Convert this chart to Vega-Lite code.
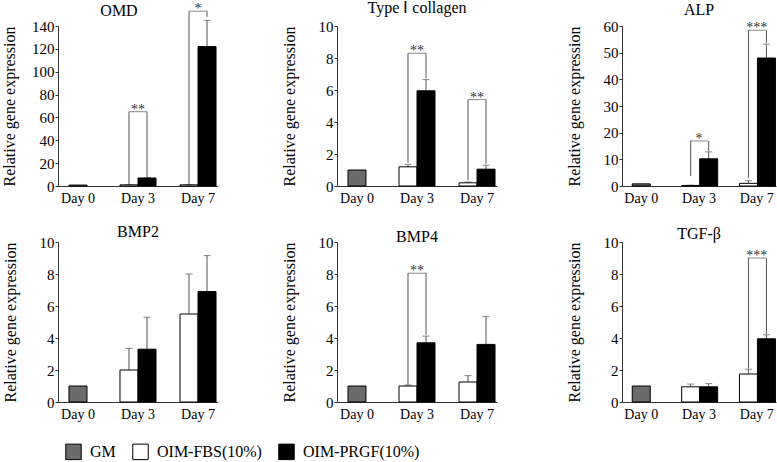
{
"$schema": "https://vega.github.io/schema/vega-lite/v6.json",
"padding": {"left": 1, "top": 0, "right": 2, "bottom": 0},
"config": {
 "font": "Liberation Serif",
 "view": {"stroke": null},
 "style": {"guide-label": {"font": "Liberation Serif"}, "guide-title": {"font": "Liberation Serif"}},
 "axis": {"grid": false, "domainColor": "#333", "tickColor": "#333", "labelColor": "#000", "labelFont": "Liberation Serif", "titleFont": "Liberation Serif", "labelFontSize": 15, "titleFontSize": 16, "titleFontWeight": "normal", "titleColor": "#000", "labelOverlap": false},
 "axisX": {"ticks": false, "labelAngle": 0, "labelFontSize": 14, "labelPadding": 5},
 "axisY": {"tickSize": 3, "labelPadding": 1, "labelOverlap": false},
 "axisQuantitative": {"labelOverlap": false},
 "title": {"font": "Liberation Serif", "fontSize": 16, "fontWeight": "normal", "color": "#000", "anchor": "middle", "frame": "group"},
 "legend": {"orient": "bottom", "direction": "horizontal", "symbolType": "square", "symbolSize": 240, "symbolStrokeColor": "#000", "symbolStrokeWidth": 1, "labelFont": "Liberation Serif", "labelFontSize": 16, "labelColor": "#000", "columnPadding": 14, "labelOffset": 8, "offset": 15, "padding": 7}
},
"datasets": {
 "bars": [
  {"gene": "OMD", "day": "Day 0", "group": "GM", "value": 0.8, "err": 0.8},
  {"gene": "OMD", "day": "Day 3", "group": "OIM-FBS(10%)", "value": 1.0, "err": 1.2},
  {"gene": "OMD", "day": "Day 3", "group": "OIM-PRGF(10%)", "value": 7.0, "err": 7.3},
  {"gene": "OMD", "day": "Day 7", "group": "OIM-FBS(10%)", "value": 1.0, "err": 1.3},
  {"gene": "OMD", "day": "Day 7", "group": "OIM-PRGF(10%)", "value": 122, "err": 145},
  {"gene": "Type I collagen", "day": "Day 0", "group": "GM", "value": 1.0, "err": 1.02},
  {"gene": "Type I collagen", "day": "Day 3", "group": "OIM-FBS(10%)", "value": 1.2, "err": 1.35},
  {"gene": "Type I collagen", "day": "Day 3", "group": "OIM-PRGF(10%)", "value": 5.95, "err": 6.65},
  {"gene": "Type I collagen", "day": "Day 7", "group": "OIM-FBS(10%)", "value": 0.2, "err": 0.25},
  {"gene": "Type I collagen", "day": "Day 7", "group": "OIM-PRGF(10%)", "value": 1.05, "err": 1.3},
  {"gene": "ALP", "day": "Day 0", "group": "GM", "value": 0.8, "err": 0.9},
  {"gene": "ALP", "day": "Day 3", "group": "OIM-FBS(10%)", "value": 0.2, "err": 0.3},
  {"gene": "ALP", "day": "Day 3", "group": "OIM-PRGF(10%)", "value": 10.2, "err": 12.8},
  {"gene": "ALP", "day": "Day 7", "group": "OIM-FBS(10%)", "value": 1.0, "err": 2.0},
  {"gene": "ALP", "day": "Day 7", "group": "OIM-PRGF(10%)", "value": 48, "err": 53.2},
  {"gene": "BMP2", "day": "Day 0", "group": "GM", "value": 1.0, "err": 1.0},
  {"gene": "BMP2", "day": "Day 3", "group": "OIM-FBS(10%)", "value": 2.0, "err": 3.35},
  {"gene": "BMP2", "day": "Day 3", "group": "OIM-PRGF(10%)", "value": 3.3, "err": 5.3},
  {"gene": "BMP2", "day": "Day 7", "group": "OIM-FBS(10%)", "value": 5.5, "err": 8.0},
  {"gene": "BMP2", "day": "Day 7", "group": "OIM-PRGF(10%)", "value": 6.9, "err": 9.15},
  {"gene": "BMP4", "day": "Day 0", "group": "GM", "value": 1.0, "err": 1.0},
  {"gene": "BMP4", "day": "Day 3", "group": "OIM-FBS(10%)", "value": 1.0, "err": 1.07},
  {"gene": "BMP4", "day": "Day 3", "group": "OIM-PRGF(10%)", "value": 3.7, "err": 4.12},
  {"gene": "BMP4", "day": "Day 7", "group": "OIM-FBS(10%)", "value": 1.25, "err": 1.65},
  {"gene": "BMP4", "day": "Day 7", "group": "OIM-PRGF(10%)", "value": 3.6, "err": 5.35},
  {"gene": "TGF-β", "day": "Day 0", "group": "GM", "value": 1.0, "err": 1.0},
  {"gene": "TGF-β", "day": "Day 3", "group": "OIM-FBS(10%)", "value": 0.95, "err": 1.12},
  {"gene": "TGF-β", "day": "Day 3", "group": "OIM-PRGF(10%)", "value": 0.95, "err": 1.15},
  {"gene": "TGF-β", "day": "Day 7", "group": "OIM-FBS(10%)", "value": 1.75, "err": 2.05},
  {"gene": "TGF-β", "day": "Day 7", "group": "OIM-PRGF(10%)", "value": 3.95, "err": 4.2}
 ],
 "legs": [
  {"gene": "OMD", "day": "Day 3", "group": "OIM-FBS(10%)", "from": 1.5, "to": 65},
  {"gene": "OMD", "day": "Day 3", "group": "OIM-PRGF(10%)", "from": 7.5, "to": 65},
  {"gene": "OMD", "day": "Day 7", "group": "OIM-FBS(10%)", "from": 1.5, "to": 153},
  {"gene": "OMD", "day": "Day 7", "group": "OIM-PRGF(10%)", "from": 148, "to": 153},
  {"gene": "Type I collagen", "day": "Day 3", "group": "OIM-FBS(10%)", "from": 1.45, "to": 8.3},
  {"gene": "Type I collagen", "day": "Day 3", "group": "OIM-PRGF(10%)", "from": 6.75, "to": 8.3},
  {"gene": "Type I collagen", "day": "Day 7", "group": "OIM-FBS(10%)", "from": 0.35, "to": 5.4},
  {"gene": "Type I collagen", "day": "Day 7", "group": "OIM-PRGF(10%)", "from": 1.4, "to": 5.4},
  {"gene": "ALP", "day": "Day 3", "group": "OIM-FBS(10%)", "from": 3.7, "to": 16.9},
  {"gene": "ALP", "day": "Day 3", "group": "OIM-PRGF(10%)", "from": 13.1, "to": 16.9},
  {"gene": "ALP", "day": "Day 7", "group": "OIM-FBS(10%)", "from": 3.1, "to": 58.4},
  {"gene": "ALP", "day": "Day 7", "group": "OIM-PRGF(10%)", "from": 53.7, "to": 58.4},
  {"gene": "BMP4", "day": "Day 3", "group": "OIM-FBS(10%)", "from": 1.1, "to": 8.05},
  {"gene": "BMP4", "day": "Day 3", "group": "OIM-PRGF(10%)", "from": 4.2, "to": 8.05},
  {"gene": "TGF-β", "day": "Day 7", "group": "OIM-FBS(10%)", "from": 2.1, "to": 9.0},
  {"gene": "TGF-β", "day": "Day 7", "group": "OIM-PRGF(10%)", "from": 4.25, "to": 9.0}
 ],
 "tops": [
  {"gene": "OMD", "day": "Day 3", "top": 65, "label": "**"},
  {"gene": "OMD", "day": "Day 7", "top": 153, "label": "*"},
  {"gene": "Type I collagen", "day": "Day 3", "top": 8.3, "label": "**"},
  {"gene": "Type I collagen", "day": "Day 7", "top": 5.4, "label": "**"},
  {"gene": "ALP", "day": "Day 3", "top": 16.9, "label": "*"},
  {"gene": "ALP", "day": "Day 7", "top": 58.4, "label": "***"},
  {"gene": "BMP4", "day": "Day 3", "top": 8.05, "label": "**"},
  {"gene": "TGF-β", "day": "Day 7", "top": 9.0, "label": "***"}
 ]
},
"vconcat": [
 {"hconcat": [
  {"width": 160, "height": 160, "title": {"text": "OMD", "offset": -17, "dx": -19},
   "encoding": {"x": {"field": "day", "type": "nominal", "title": null, "scale": {"domain": ["Day 0", "Day 3", "Day 7"], "paddingInner": 0.4, "paddingOuter": 0.033}, "axis": {"labelFont": "Liberation Serif", "labelFontSize": 14}}},
   "layer": [
    {"data": {"name": "bars"}, "transform": [{"filter": {"and": [{"field": "gene", "equal": "OMD"}, {"field": "group", "equal": "GM"}]}}],
     "mark": {"type": "bar", "width": 18, "stroke": "#000", "strokeWidth": 1},
     "encoding": {"y": {"field": "value", "type": "quantitative", "title": "Relative gene expression", "scale": {"domain": [0, 140], "nice": false}, "axis": {"values": [0, 20, 40, 60, 80, 100, 120, 140], "titlePadding": 14, "labelOverlap": false, "labelFont": "Liberation Serif", "titleFont": "Liberation Serif", "labelFontSize": 15, "titleFontSize": 16}},
      "fill": {"field": "group", "type": "nominal", "title": null, "scale": {"domain": ["GM", "OIM-FBS(10%)", "OIM-PRGF(10%)"], "range": ["#6b6b6b", "#ffffff", "#000000"]}}}},
    {"data": {"name": "bars"}, "transform": [{"filter": {"and": [{"field": "gene", "equal": "OMD"}, {"field": "group", "oneOf": ["OIM-FBS(10%)", "OIM-PRGF(10%)"]}]}}],
     "mark": {"type": "rule", "color": "#555"},
     "encoding": {"xOffset": {"field": "group", "type": "nominal", "scale": {"domain": ["OIM-FBS(10%)", "OIM-PRGF(10%)"], "paddingInner": 0, "paddingOuter": 0}},
      "y": {"field": "value", "type": "quantitative", "title": "Relative gene expression", "scale": {"domain": [0, 140], "nice": false}, "axis": {"values": [0, 20, 40, 60, 80, 100, 120, 140], "titlePadding": 14, "labelOverlap": false, "labelFont": "Liberation Serif", "titleFont": "Liberation Serif", "labelFontSize": 15, "titleFontSize": 16}}, "y2": {"field": "err"}}},
    {"data": {"name": "bars"}, "transform": [{"filter": {"and": [{"field": "gene", "equal": "OMD"}, {"field": "group", "oneOf": ["OIM-FBS(10%)", "OIM-PRGF(10%)"]}]}}],
     "mark": {"type": "tick", "color": "#555", "size": 7, "thickness": 1},
     "encoding": {"xOffset": {"field": "group", "type": "nominal", "scale": {"domain": ["OIM-FBS(10%)", "OIM-PRGF(10%)"], "paddingInner": 0, "paddingOuter": 0}},
      "y": {"field": "err", "type": "quantitative", "title": "Relative gene expression", "scale": {"domain": [0, 140], "nice": false}, "axis": {"values": [0, 20, 40, 60, 80, 100, 120, 140], "titlePadding": 14, "labelOverlap": false, "labelFont": "Liberation Serif", "titleFont": "Liberation Serif", "labelFontSize": 15, "titleFontSize": 16}}}},
    {"data": {"name": "bars"}, "transform": [{"filter": {"and": [{"field": "gene", "equal": "OMD"}, {"field": "group", "oneOf": ["OIM-FBS(10%)", "OIM-PRGF(10%)"]}]}}],
     "mark": {"type": "bar", "stroke": "#000", "strokeWidth": 1},
     "encoding": {"xOffset": {"field": "group", "type": "nominal", "scale": {"domain": ["OIM-FBS(10%)", "OIM-PRGF(10%)"], "paddingInner": 0, "paddingOuter": 0}},
      "y": {"field": "value", "type": "quantitative", "title": "Relative gene expression", "scale": {"domain": [0, 140], "nice": false}, "axis": {"values": [0, 20, 40, 60, 80, 100, 120, 140], "titlePadding": 14, "labelOverlap": false, "labelFont": "Liberation Serif", "titleFont": "Liberation Serif", "labelFontSize": 15, "titleFontSize": 16}},
      "fill": {"field": "group", "type": "nominal", "title": null, "scale": {"domain": ["GM", "OIM-FBS(10%)", "OIM-PRGF(10%)"], "range": ["#6b6b6b", "#ffffff", "#000000"]}}}},
    {"data": {"name": "legs"}, "transform": [{"filter": {"field": "gene", "equal": "OMD"}}],
     "mark": {"type": "rule", "color": "#555"},
     "encoding": {"xOffset": {"field": "group", "type": "nominal", "scale": {"domain": ["OIM-FBS(10%)", "OIM-PRGF(10%)"], "paddingInner": 0, "paddingOuter": 0}},
      "y": {"field": "from", "type": "quantitative", "title": "Relative gene expression", "scale": {"domain": [0, 140], "nice": false}, "axis": {"values": [0, 20, 40, 60, 80, 100, 120, 140], "titlePadding": 14, "labelOverlap": false, "labelFont": "Liberation Serif", "titleFont": "Liberation Serif", "labelFontSize": 15, "titleFontSize": 16}}, "y2": {"field": "to"}}},
    {"data": {"name": "tops"}, "transform": [{"filter": {"field": "gene", "equal": "OMD"}}],
     "mark": {"type": "tick", "color": "#555", "size": 18, "thickness": 1},
     "encoding": {"y": {"field": "top", "type": "quantitative", "title": "Relative gene expression", "scale": {"domain": [0, 140], "nice": false}, "axis": {"values": [0, 20, 40, 60, 80, 100, 120, 140], "titlePadding": 14, "labelOverlap": false, "labelFont": "Liberation Serif", "titleFont": "Liberation Serif", "labelFontSize": 15, "titleFontSize": 16}}}},
    {"data": {"name": "tops"}, "transform": [{"filter": {"field": "gene", "equal": "OMD"}}],
     "mark": {"type": "text", "baseline": "alphabetic", "dy": 2, "fontSize": 14, "color": "#333", "font": "Liberation Serif"},
     "encoding": {"y": {"field": "top", "type": "quantitative", "title": "Relative gene expression", "scale": {"domain": [0, 140], "nice": false}, "axis": {"values": [0, 20, 40, 60, 80, 100, 120, 140], "titlePadding": 14, "labelOverlap": false, "labelFont": "Liberation Serif", "titleFont": "Liberation Serif", "labelFontSize": 15, "titleFontSize": 16}}, "text": {"field": "label"}}}
   ]},
  {"hconcat": [
   {"width": 160, "height": 160, "title": {"text": "Type Ⅰ collagen", "offset": 3},
    "encoding": {"x": {"field": "day", "type": "nominal", "title": null, "scale": {"domain": ["Day 0", "Day 3", "Day 7"], "paddingInner": 0.4, "paddingOuter": 0.033}, "axis": {"labelFont": "Liberation Serif", "labelFontSize": 14}}},
    "layer": [
     {"data": {"name": "bars"}, "transform": [{"filter": {"and": [{"field": "gene", "equal": "Type I collagen"}, {"field": "group", "equal": "GM"}]}}],
      "mark": {"type": "bar", "width": 18, "stroke": "#000", "strokeWidth": 1},
      "encoding": {"y": {"field": "value", "type": "quantitative", "title": "Relative gene expression", "scale": {"domain": [0, 10], "nice": false}, "axis": {"values": [0, 2, 4, 6, 8, 10], "titlePadding": 21, "labelOverlap": false, "labelFont": "Liberation Serif", "titleFont": "Liberation Serif", "labelFontSize": 15, "titleFontSize": 16}},
       "fill": {"field": "group", "type": "nominal", "title": null, "scale": {"domain": ["GM", "OIM-FBS(10%)", "OIM-PRGF(10%)"], "range": ["#6b6b6b", "#ffffff", "#000000"]}}}},
     {"data": {"name": "bars"}, "transform": [{"filter": {"and": [{"field": "gene", "equal": "Type I collagen"}, {"field": "group", "oneOf": ["OIM-FBS(10%)", "OIM-PRGF(10%)"]}]}}],
      "mark": {"type": "rule", "color": "#555"},
      "encoding": {"xOffset": {"field": "group", "type": "nominal", "scale": {"domain": ["OIM-FBS(10%)", "OIM-PRGF(10%)"], "paddingInner": 0, "paddingOuter": 0}},
       "y": {"field": "value", "type": "quantitative", "title": "Relative gene expression", "scale": {"domain": [0, 10], "nice": false}, "axis": {"values": [0, 2, 4, 6, 8, 10], "titlePadding": 21, "labelOverlap": false, "labelFont": "Liberation Serif", "titleFont": "Liberation Serif", "labelFontSize": 15, "titleFontSize": 16}}, "y2": {"field": "err"}}},
     {"data": {"name": "bars"}, "transform": [{"filter": {"and": [{"field": "gene", "equal": "Type I collagen"}, {"field": "group", "oneOf": ["OIM-FBS(10%)", "OIM-PRGF(10%)"]}]}}],
      "mark": {"type": "tick", "color": "#555", "size": 7, "thickness": 1},
      "encoding": {"xOffset": {"field": "group", "type": "nominal", "scale": {"domain": ["OIM-FBS(10%)", "OIM-PRGF(10%)"], "paddingInner": 0, "paddingOuter": 0}},
       "y": {"field": "err", "type": "quantitative", "title": "Relative gene expression", "scale": {"domain": [0, 10], "nice": false}, "axis": {"values": [0, 2, 4, 6, 8, 10], "titlePadding": 21, "labelOverlap": false, "labelFont": "Liberation Serif", "titleFont": "Liberation Serif", "labelFontSize": 15, "titleFontSize": 16}}}},
     {"data": {"name": "bars"}, "transform": [{"filter": {"and": [{"field": "gene", "equal": "Type I collagen"}, {"field": "group", "oneOf": ["OIM-FBS(10%)", "OIM-PRGF(10%)"]}]}}],
      "mark": {"type": "bar", "stroke": "#000", "strokeWidth": 1},
      "encoding": {"xOffset": {"field": "group", "type": "nominal", "scale": {"domain": ["OIM-FBS(10%)", "OIM-PRGF(10%)"], "paddingInner": 0, "paddingOuter": 0}},
       "y": {"field": "value", "type": "quantitative", "title": "Relative gene expression", "scale": {"domain": [0, 10], "nice": false}, "axis": {"values": [0, 2, 4, 6, 8, 10], "titlePadding": 21, "labelOverlap": false, "labelFont": "Liberation Serif", "titleFont": "Liberation Serif", "labelFontSize": 15, "titleFontSize": 16}},
       "fill": {"field": "group", "type": "nominal", "title": null, "scale": {"domain": ["GM", "OIM-FBS(10%)", "OIM-PRGF(10%)"], "range": ["#6b6b6b", "#ffffff", "#000000"]}}}},
     {"data": {"name": "legs"}, "transform": [{"filter": {"field": "gene", "equal": "Type I collagen"}}],
      "mark": {"type": "rule", "color": "#555"},
      "encoding": {"xOffset": {"field": "group", "type": "nominal", "scale": {"domain": ["OIM-FBS(10%)", "OIM-PRGF(10%)"], "paddingInner": 0, "paddingOuter": 0}},
       "y": {"field": "from", "type": "quantitative", "title": "Relative gene expression", "scale": {"domain": [0, 10], "nice": false}, "axis": {"values": [0, 2, 4, 6, 8, 10], "titlePadding": 21, "labelOverlap": false, "labelFont": "Liberation Serif", "titleFont": "Liberation Serif", "labelFontSize": 15, "titleFontSize": 16}}, "y2": {"field": "to"}}},
     {"data": {"name": "tops"}, "transform": [{"filter": {"field": "gene", "equal": "Type I collagen"}}],
      "mark": {"type": "tick", "color": "#555", "size": 18, "thickness": 1},
      "encoding": {"y": {"field": "top", "type": "quantitative", "title": "Relative gene expression", "scale": {"domain": [0, 10], "nice": false}, "axis": {"values": [0, 2, 4, 6, 8, 10], "titlePadding": 21, "labelOverlap": false, "labelFont": "Liberation Serif", "titleFont": "Liberation Serif", "labelFontSize": 15, "titleFontSize": 16}}}},
     {"data": {"name": "tops"}, "transform": [{"filter": {"field": "gene", "equal": "Type I collagen"}}],
      "mark": {"type": "text", "baseline": "alphabetic", "dy": 2, "fontSize": 14, "color": "#333", "font": "Liberation Serif"},
      "encoding": {"y": {"field": "top", "type": "quantitative", "title": "Relative gene expression", "scale": {"domain": [0, 10], "nice": false}, "axis": {"values": [0, 2, 4, 6, 8, 10], "titlePadding": 21, "labelOverlap": false, "labelFont": "Liberation Serif", "titleFont": "Liberation Serif", "labelFontSize": 15, "titleFontSize": 16}}, "text": {"field": "label"}}}
    ]},
   {"width": 154, "height": 160, "title": {"text": "ALP", "offset": 1},
    "encoding": {"x": {"field": "day", "type": "nominal", "title": null, "scale": {"domain": ["Day 0", "Day 3", "Day 7"], "paddingInner": 0.4, "paddingOuter": 0.033}, "axis": {"labelFont": "Liberation Serif", "labelFontSize": 14}}},
    "layer": [
     {"data": {"name": "bars"}, "transform": [{"filter": {"and": [{"field": "gene", "equal": "ALP"}, {"field": "group", "equal": "GM"}]}}],
      "mark": {"type": "bar", "width": 18, "stroke": "#000", "strokeWidth": 1},
      "encoding": {"y": {"field": "value", "type": "quantitative", "title": "Relative gene expression", "scale": {"domain": [0, 60], "nice": false}, "axis": {"values": [0, 10, 20, 30, 40, 50, 60], "titlePadding": 21, "labelOverlap": false, "labelFont": "Liberation Serif", "titleFont": "Liberation Serif", "labelFontSize": 15, "titleFontSize": 16}},
       "fill": {"field": "group", "type": "nominal", "title": null, "scale": {"domain": ["GM", "OIM-FBS(10%)", "OIM-PRGF(10%)"], "range": ["#6b6b6b", "#ffffff", "#000000"]}}}},
     {"data": {"name": "bars"}, "transform": [{"filter": {"and": [{"field": "gene", "equal": "ALP"}, {"field": "group", "oneOf": ["OIM-FBS(10%)", "OIM-PRGF(10%)"]}]}}],
      "mark": {"type": "rule", "color": "#555"},
      "encoding": {"xOffset": {"field": "group", "type": "nominal", "scale": {"domain": ["OIM-FBS(10%)", "OIM-PRGF(10%)"], "paddingInner": 0, "paddingOuter": 0}},
       "y": {"field": "value", "type": "quantitative", "title": "Relative gene expression", "scale": {"domain": [0, 60], "nice": false}, "axis": {"values": [0, 10, 20, 30, 40, 50, 60], "titlePadding": 21, "labelOverlap": false, "labelFont": "Liberation Serif", "titleFont": "Liberation Serif", "labelFontSize": 15, "titleFontSize": 16}}, "y2": {"field": "err"}}},
     {"data": {"name": "bars"}, "transform": [{"filter": {"and": [{"field": "gene", "equal": "ALP"}, {"field": "group", "oneOf": ["OIM-FBS(10%)", "OIM-PRGF(10%)"]}]}}],
      "mark": {"type": "tick", "color": "#555", "size": 7, "thickness": 1},
      "encoding": {"xOffset": {"field": "group", "type": "nominal", "scale": {"domain": ["OIM-FBS(10%)", "OIM-PRGF(10%)"], "paddingInner": 0, "paddingOuter": 0}},
       "y": {"field": "err", "type": "quantitative", "title": "Relative gene expression", "scale": {"domain": [0, 60], "nice": false}, "axis": {"values": [0, 10, 20, 30, 40, 50, 60], "titlePadding": 21, "labelOverlap": false, "labelFont": "Liberation Serif", "titleFont": "Liberation Serif", "labelFontSize": 15, "titleFontSize": 16}}}},
     {"data": {"name": "bars"}, "transform": [{"filter": {"and": [{"field": "gene", "equal": "ALP"}, {"field": "group", "oneOf": ["OIM-FBS(10%)", "OIM-PRGF(10%)"]}]}}],
      "mark": {"type": "bar", "stroke": "#000", "strokeWidth": 1},
      "encoding": {"xOffset": {"field": "group", "type": "nominal", "scale": {"domain": ["OIM-FBS(10%)", "OIM-PRGF(10%)"], "paddingInner": 0, "paddingOuter": 0}},
       "y": {"field": "value", "type": "quantitative", "title": "Relative gene expression", "scale": {"domain": [0, 60], "nice": false}, "axis": {"values": [0, 10, 20, 30, 40, 50, 60], "titlePadding": 21, "labelOverlap": false, "labelFont": "Liberation Serif", "titleFont": "Liberation Serif", "labelFontSize": 15, "titleFontSize": 16}},
       "fill": {"field": "group", "type": "nominal", "title": null, "scale": {"domain": ["GM", "OIM-FBS(10%)", "OIM-PRGF(10%)"], "range": ["#6b6b6b", "#ffffff", "#000000"]}}}},
     {"data": {"name": "legs"}, "transform": [{"filter": {"field": "gene", "equal": "ALP"}}],
      "mark": {"type": "rule", "color": "#555"},
      "encoding": {"xOffset": {"field": "group", "type": "nominal", "scale": {"domain": ["OIM-FBS(10%)", "OIM-PRGF(10%)"], "paddingInner": 0, "paddingOuter": 0}},
       "y": {"field": "from", "type": "quantitative", "title": "Relative gene expression", "scale": {"domain": [0, 60], "nice": false}, "axis": {"values": [0, 10, 20, 30, 40, 50, 60], "titlePadding": 21, "labelOverlap": false, "labelFont": "Liberation Serif", "titleFont": "Liberation Serif", "labelFontSize": 15, "titleFontSize": 16}}, "y2": {"field": "to"}}},
     {"data": {"name": "tops"}, "transform": [{"filter": {"field": "gene", "equal": "ALP"}}],
      "mark": {"type": "tick", "color": "#555", "size": 18, "thickness": 1},
      "encoding": {"y": {"field": "top", "type": "quantitative", "title": "Relative gene expression", "scale": {"domain": [0, 60], "nice": false}, "axis": {"values": [0, 10, 20, 30, 40, 50, 60], "titlePadding": 21, "labelOverlap": false, "labelFont": "Liberation Serif", "titleFont": "Liberation Serif", "labelFontSize": 15, "titleFontSize": 16}}}},
     {"data": {"name": "tops"}, "transform": [{"filter": {"field": "gene", "equal": "ALP"}}],
      "mark": {"type": "text", "baseline": "alphabetic", "dy": 2, "fontSize": 14, "color": "#333", "font": "Liberation Serif"},
      "encoding": {"y": {"field": "top", "type": "quantitative", "title": "Relative gene expression", "scale": {"domain": [0, 60], "nice": false}, "axis": {"values": [0, 10, 20, 30, 40, 50, 60], "titlePadding": 21, "labelOverlap": false, "labelFont": "Liberation Serif", "titleFont": "Liberation Serif", "labelFontSize": 15, "titleFontSize": 16}}, "text": {"field": "label"}}}
    ]}
  ], "spacing": 68}
 ], "spacing": 62},
 {"hconcat": [
  {"width": 160, "height": 160, "title": {"text": "BMP2", "offset": -5},
   "encoding": {"x": {"field": "day", "type": "nominal", "title": null, "scale": {"domain": ["Day 0", "Day 3", "Day 7"], "paddingInner": 0.4, "paddingOuter": 0.033}, "axis": {"labelFont": "Liberation Serif", "labelFontSize": 14}}},
   "layer": [
    {"data": {"name": "bars"}, "transform": [{"filter": {"and": [{"field": "gene", "equal": "BMP2"}, {"field": "group", "equal": "GM"}]}}],
     "mark": {"type": "bar", "width": 18, "stroke": "#000", "strokeWidth": 1},
     "encoding": {"y": {"field": "value", "type": "quantitative", "title": "Relative gene expression", "scale": {"domain": [0, 10], "nice": false}, "axis": {"values": [0, 2, 4, 6, 8, 10], "titlePadding": 21, "labelOverlap": false, "labelFont": "Liberation Serif", "titleFont": "Liberation Serif", "labelFontSize": 15, "titleFontSize": 16}},
      "fill": {"field": "group", "type": "nominal", "title": null, "scale": {"domain": ["GM", "OIM-FBS(10%)", "OIM-PRGF(10%)"], "range": ["#6b6b6b", "#ffffff", "#000000"]}}}},
    {"data": {"name": "bars"}, "transform": [{"filter": {"and": [{"field": "gene", "equal": "BMP2"}, {"field": "group", "oneOf": ["OIM-FBS(10%)", "OIM-PRGF(10%)"]}]}}],
     "mark": {"type": "rule", "color": "#555"},
     "encoding": {"xOffset": {"field": "group", "type": "nominal", "scale": {"domain": ["OIM-FBS(10%)", "OIM-PRGF(10%)"], "paddingInner": 0, "paddingOuter": 0}},
      "y": {"field": "value", "type": "quantitative", "title": "Relative gene expression", "scale": {"domain": [0, 10], "nice": false}, "axis": {"values": [0, 2, 4, 6, 8, 10], "titlePadding": 21, "labelOverlap": false, "labelFont": "Liberation Serif", "titleFont": "Liberation Serif", "labelFontSize": 15, "titleFontSize": 16}}, "y2": {"field": "err"}}},
    {"data": {"name": "bars"}, "transform": [{"filter": {"and": [{"field": "gene", "equal": "BMP2"}, {"field": "group", "oneOf": ["OIM-FBS(10%)", "OIM-PRGF(10%)"]}]}}],
     "mark": {"type": "tick", "color": "#555", "size": 7, "thickness": 1},
     "encoding": {"xOffset": {"field": "group", "type": "nominal", "scale": {"domain": ["OIM-FBS(10%)", "OIM-PRGF(10%)"], "paddingInner": 0, "paddingOuter": 0}},
      "y": {"field": "err", "type": "quantitative", "title": "Relative gene expression", "scale": {"domain": [0, 10], "nice": false}, "axis": {"values": [0, 2, 4, 6, 8, 10], "titlePadding": 21, "labelOverlap": false, "labelFont": "Liberation Serif", "titleFont": "Liberation Serif", "labelFontSize": 15, "titleFontSize": 16}}}},
    {"data": {"name": "bars"}, "transform": [{"filter": {"and": [{"field": "gene", "equal": "BMP2"}, {"field": "group", "oneOf": ["OIM-FBS(10%)", "OIM-PRGF(10%)"]}]}}],
     "mark": {"type": "bar", "stroke": "#000", "strokeWidth": 1},
     "encoding": {"xOffset": {"field": "group", "type": "nominal", "scale": {"domain": ["OIM-FBS(10%)", "OIM-PRGF(10%)"], "paddingInner": 0, "paddingOuter": 0}},
      "y": {"field": "value", "type": "quantitative", "title": "Relative gene expression", "scale": {"domain": [0, 10], "nice": false}, "axis": {"values": [0, 2, 4, 6, 8, 10], "titlePadding": 21, "labelOverlap": false, "labelFont": "Liberation Serif", "titleFont": "Liberation Serif", "labelFontSize": 15, "titleFontSize": 16}},
      "fill": {"field": "group", "type": "nominal", "title": null, "scale": {"domain": ["GM", "OIM-FBS(10%)", "OIM-PRGF(10%)"], "range": ["#6b6b6b", "#ffffff", "#000000"]}}}}
   ]},
  {"hconcat": [
   {"width": 160, "height": 160, "title": {"text": "BMP4", "offset": -10},
    "encoding": {"x": {"field": "day", "type": "nominal", "title": null, "scale": {"domain": ["Day 0", "Day 3", "Day 7"], "paddingInner": 0.4, "paddingOuter": 0.033}, "axis": {"labelFont": "Liberation Serif", "labelFontSize": 14}}},
    "layer": [
     {"data": {"name": "bars"}, "transform": [{"filter": {"and": [{"field": "gene", "equal": "BMP4"}, {"field": "group", "equal": "GM"}]}}],
      "mark": {"type": "bar", "width": 18, "stroke": "#000", "strokeWidth": 1},
      "encoding": {"y": {"field": "value", "type": "quantitative", "title": "Relative gene expression", "scale": {"domain": [0, 10], "nice": false}, "axis": {"values": [0, 2, 4, 6, 8, 10], "titlePadding": 21, "labelOverlap": false, "labelFont": "Liberation Serif", "titleFont": "Liberation Serif", "labelFontSize": 15, "titleFontSize": 16}},
       "fill": {"field": "group", "type": "nominal", "title": null, "scale": {"domain": ["GM", "OIM-FBS(10%)", "OIM-PRGF(10%)"], "range": ["#6b6b6b", "#ffffff", "#000000"]}}}},
     {"data": {"name": "bars"}, "transform": [{"filter": {"and": [{"field": "gene", "equal": "BMP4"}, {"field": "group", "oneOf": ["OIM-FBS(10%)", "OIM-PRGF(10%)"]}]}}],
      "mark": {"type": "rule", "color": "#555"},
      "encoding": {"xOffset": {"field": "group", "type": "nominal", "scale": {"domain": ["OIM-FBS(10%)", "OIM-PRGF(10%)"], "paddingInner": 0, "paddingOuter": 0}},
       "y": {"field": "value", "type": "quantitative", "title": "Relative gene expression", "scale": {"domain": [0, 10], "nice": false}, "axis": {"values": [0, 2, 4, 6, 8, 10], "titlePadding": 21, "labelOverlap": false, "labelFont": "Liberation Serif", "titleFont": "Liberation Serif", "labelFontSize": 15, "titleFontSize": 16}}, "y2": {"field": "err"}}},
     {"data": {"name": "bars"}, "transform": [{"filter": {"and": [{"field": "gene", "equal": "BMP4"}, {"field": "group", "oneOf": ["OIM-FBS(10%)", "OIM-PRGF(10%)"]}]}}],
      "mark": {"type": "tick", "color": "#555", "size": 7, "thickness": 1},
      "encoding": {"xOffset": {"field": "group", "type": "nominal", "scale": {"domain": ["OIM-FBS(10%)", "OIM-PRGF(10%)"], "paddingInner": 0, "paddingOuter": 0}},
       "y": {"field": "err", "type": "quantitative", "title": "Relative gene expression", "scale": {"domain": [0, 10], "nice": false}, "axis": {"values": [0, 2, 4, 6, 8, 10], "titlePadding": 21, "labelOverlap": false, "labelFont": "Liberation Serif", "titleFont": "Liberation Serif", "labelFontSize": 15, "titleFontSize": 16}}}},
     {"data": {"name": "bars"}, "transform": [{"filter": {"and": [{"field": "gene", "equal": "BMP4"}, {"field": "group", "oneOf": ["OIM-FBS(10%)", "OIM-PRGF(10%)"]}]}}],
      "mark": {"type": "bar", "stroke": "#000", "strokeWidth": 1},
      "encoding": {"xOffset": {"field": "group", "type": "nominal", "scale": {"domain": ["OIM-FBS(10%)", "OIM-PRGF(10%)"], "paddingInner": 0, "paddingOuter": 0}},
       "y": {"field": "value", "type": "quantitative", "title": "Relative gene expression", "scale": {"domain": [0, 10], "nice": false}, "axis": {"values": [0, 2, 4, 6, 8, 10], "titlePadding": 21, "labelOverlap": false, "labelFont": "Liberation Serif", "titleFont": "Liberation Serif", "labelFontSize": 15, "titleFontSize": 16}},
       "fill": {"field": "group", "type": "nominal", "title": null, "scale": {"domain": ["GM", "OIM-FBS(10%)", "OIM-PRGF(10%)"], "range": ["#6b6b6b", "#ffffff", "#000000"]}}}},
     {"data": {"name": "legs"}, "transform": [{"filter": {"field": "gene", "equal": "BMP4"}}],
      "mark": {"type": "rule", "color": "#555"},
      "encoding": {"xOffset": {"field": "group", "type": "nominal", "scale": {"domain": ["OIM-FBS(10%)", "OIM-PRGF(10%)"], "paddingInner": 0, "paddingOuter": 0}},
       "y": {"field": "from", "type": "quantitative", "title": "Relative gene expression", "scale": {"domain": [0, 10], "nice": false}, "axis": {"values": [0, 2, 4, 6, 8, 10], "titlePadding": 21, "labelOverlap": false, "labelFont": "Liberation Serif", "titleFont": "Liberation Serif", "labelFontSize": 15, "titleFontSize": 16}}, "y2": {"field": "to"}}},
     {"data": {"name": "tops"}, "transform": [{"filter": {"field": "gene", "equal": "BMP4"}}],
      "mark": {"type": "tick", "color": "#555", "size": 18, "thickness": 1},
      "encoding": {"y": {"field": "top", "type": "quantitative", "title": "Relative gene expression", "scale": {"domain": [0, 10], "nice": false}, "axis": {"values": [0, 2, 4, 6, 8, 10], "titlePadding": 21, "labelOverlap": false, "labelFont": "Liberation Serif", "titleFont": "Liberation Serif", "labelFontSize": 15, "titleFontSize": 16}}}},
     {"data": {"name": "tops"}, "transform": [{"filter": {"field": "gene", "equal": "BMP4"}}],
      "mark": {"type": "text", "baseline": "alphabetic", "dy": 2, "fontSize": 14, "color": "#333", "font": "Liberation Serif"},
      "encoding": {"y": {"field": "top", "type": "quantitative", "title": "Relative gene expression", "scale": {"domain": [0, 10], "nice": false}, "axis": {"values": [0, 2, 4, 6, 8, 10], "titlePadding": 21, "labelOverlap": false, "labelFont": "Liberation Serif", "titleFont": "Liberation Serif", "labelFontSize": 15, "titleFontSize": 16}}, "text": {"field": "label"}}}
    ]},
   {"width": 154, "height": 160, "title": {"text": "TGF-β", "offset": -7},
    "encoding": {"x": {"field": "day", "type": "nominal", "title": null, "scale": {"domain": ["Day 0", "Day 3", "Day 7"], "paddingInner": 0.4, "paddingOuter": 0.033}, "axis": {"labelFont": "Liberation Serif", "labelFontSize": 14}}},
    "layer": [
     {"data": {"name": "bars"}, "transform": [{"filter": {"and": [{"field": "gene", "equal": "TGF-β"}, {"field": "group", "equal": "GM"}]}}],
      "mark": {"type": "bar", "width": 18, "stroke": "#000", "strokeWidth": 1},
      "encoding": {"y": {"field": "value", "type": "quantitative", "title": "Relative gene expression", "scale": {"domain": [0, 10], "nice": false}, "axis": {"values": [0, 2, 4, 6, 8, 10], "titlePadding": 21, "labelOverlap": false, "labelFont": "Liberation Serif", "titleFont": "Liberation Serif", "labelFontSize": 15, "titleFontSize": 16}},
       "fill": {"field": "group", "type": "nominal", "title": null, "scale": {"domain": ["GM", "OIM-FBS(10%)", "OIM-PRGF(10%)"], "range": ["#6b6b6b", "#ffffff", "#000000"]}}}},
     {"data": {"name": "bars"}, "transform": [{"filter": {"and": [{"field": "gene", "equal": "TGF-β"}, {"field": "group", "oneOf": ["OIM-FBS(10%)", "OIM-PRGF(10%)"]}]}}],
      "mark": {"type": "rule", "color": "#555"},
      "encoding": {"xOffset": {"field": "group", "type": "nominal", "scale": {"domain": ["OIM-FBS(10%)", "OIM-PRGF(10%)"], "paddingInner": 0, "paddingOuter": 0}},
       "y": {"field": "value", "type": "quantitative", "title": "Relative gene expression", "scale": {"domain": [0, 10], "nice": false}, "axis": {"values": [0, 2, 4, 6, 8, 10], "titlePadding": 21, "labelOverlap": false, "labelFont": "Liberation Serif", "titleFont": "Liberation Serif", "labelFontSize": 15, "titleFontSize": 16}}, "y2": {"field": "err"}}},
     {"data": {"name": "bars"}, "transform": [{"filter": {"and": [{"field": "gene", "equal": "TGF-β"}, {"field": "group", "oneOf": ["OIM-FBS(10%)", "OIM-PRGF(10%)"]}]}}],
      "mark": {"type": "tick", "color": "#555", "size": 7, "thickness": 1},
      "encoding": {"xOffset": {"field": "group", "type": "nominal", "scale": {"domain": ["OIM-FBS(10%)", "OIM-PRGF(10%)"], "paddingInner": 0, "paddingOuter": 0}},
       "y": {"field": "err", "type": "quantitative", "title": "Relative gene expression", "scale": {"domain": [0, 10], "nice": false}, "axis": {"values": [0, 2, 4, 6, 8, 10], "titlePadding": 21, "labelOverlap": false, "labelFont": "Liberation Serif", "titleFont": "Liberation Serif", "labelFontSize": 15, "titleFontSize": 16}}}},
     {"data": {"name": "bars"}, "transform": [{"filter": {"and": [{"field": "gene", "equal": "TGF-β"}, {"field": "group", "oneOf": ["OIM-FBS(10%)", "OIM-PRGF(10%)"]}]}}],
      "mark": {"type": "bar", "stroke": "#000", "strokeWidth": 1},
      "encoding": {"xOffset": {"field": "group", "type": "nominal", "scale": {"domain": ["OIM-FBS(10%)", "OIM-PRGF(10%)"], "paddingInner": 0, "paddingOuter": 0}},
       "y": {"field": "value", "type": "quantitative", "title": "Relative gene expression", "scale": {"domain": [0, 10], "nice": false}, "axis": {"values": [0, 2, 4, 6, 8, 10], "titlePadding": 21, "labelOverlap": false, "labelFont": "Liberation Serif", "titleFont": "Liberation Serif", "labelFontSize": 15, "titleFontSize": 16}},
       "fill": {"field": "group", "type": "nominal", "title": null, "scale": {"domain": ["GM", "OIM-FBS(10%)", "OIM-PRGF(10%)"], "range": ["#6b6b6b", "#ffffff", "#000000"]}}}},
     {"data": {"name": "legs"}, "transform": [{"filter": {"field": "gene", "equal": "TGF-β"}}],
      "mark": {"type": "rule", "color": "#555"},
      "encoding": {"xOffset": {"field": "group", "type": "nominal", "scale": {"domain": ["OIM-FBS(10%)", "OIM-PRGF(10%)"], "paddingInner": 0, "paddingOuter": 0}},
       "y": {"field": "from", "type": "quantitative", "title": "Relative gene expression", "scale": {"domain": [0, 10], "nice": false}, "axis": {"values": [0, 2, 4, 6, 8, 10], "titlePadding": 21, "labelOverlap": false, "labelFont": "Liberation Serif", "titleFont": "Liberation Serif", "labelFontSize": 15, "titleFontSize": 16}}, "y2": {"field": "to"}}},
     {"data": {"name": "tops"}, "transform": [{"filter": {"field": "gene", "equal": "TGF-β"}}],
      "mark": {"type": "tick", "color": "#555", "size": 18, "thickness": 1},
      "encoding": {"y": {"field": "top", "type": "quantitative", "title": "Relative gene expression", "scale": {"domain": [0, 10], "nice": false}, "axis": {"values": [0, 2, 4, 6, 8, 10], "titlePadding": 21, "labelOverlap": false, "labelFont": "Liberation Serif", "titleFont": "Liberation Serif", "labelFontSize": 15, "titleFontSize": 16}}}},
     {"data": {"name": "tops"}, "transform": [{"filter": {"field": "gene", "equal": "TGF-β"}}],
      "mark": {"type": "text", "baseline": "alphabetic", "dy": 2, "fontSize": 14, "color": "#333", "font": "Liberation Serif"},
      "encoding": {"y": {"field": "top", "type": "quantitative", "title": "Relative gene expression", "scale": {"domain": [0, 10], "nice": false}, "axis": {"values": [0, 2, 4, 6, 8, 10], "titlePadding": 21, "labelOverlap": false, "labelFont": "Liberation Serif", "titleFont": "Liberation Serif", "labelFontSize": 15, "titleFontSize": 16}}, "text": {"field": "label"}}}
    ]}
  ], "spacing": 68}
 ], "spacing": 62}
], "spacing": 19
}
